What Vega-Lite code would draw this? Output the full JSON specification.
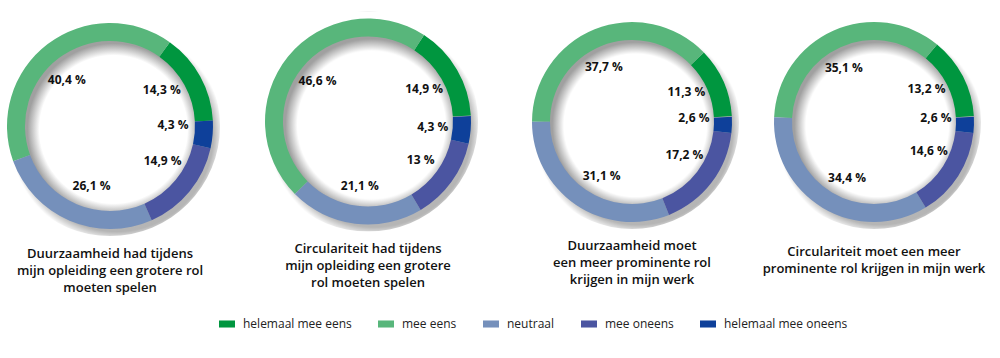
{
  "$schema": "https://vega.github.io/schema/vega-lite/v6.json",
  "padding": 0,
  "background": "white",
  "spacing": 0,
  "bounds": "flush",
  "config": {
    "view": {"stroke": null},
    "font": "Open Sans",
    "title": {"font": "Open Sans", "fontSize": 13, "fontWeight": 600, "color": "#111111", "lineHeight": 17, "anchor": "middle", "frame": "group", "baseline": "top"},
    "legend": {"labelFont": "Open Sans", "labelFontSize": 12, "labelColor": "#222222", "symbolType": "M-1,-0.44H1V0.44H-1Z", "symbolSize": 256, "symbolStrokeWidth": 0, "symbolOpacity": 1, "labelOffset": 8, "columnPadding": 26}
  },
  "datasets": {
    "survey": [
      {"q": 1, "cat": "helemaal mee eens", "value": 14.3, "label": "14,3 %", "ord": 4},
      {"q": 1, "cat": "mee eens", "value": 40.4, "label": "40,4 %", "ord": 3},
      {"q": 1, "cat": "neutraal", "value": 26.1, "label": "26,1 %", "ord": 2},
      {"q": 1, "cat": "mee oneens", "value": 14.9, "label": "14,9 %", "ord": 1},
      {"q": 1, "cat": "helemaal mee oneens", "value": 4.3, "label": "4,3 %", "ord": 0},
      {"q": 2, "cat": "helemaal mee eens", "value": 14.9, "label": "14,9 %", "ord": 4},
      {"q": 2, "cat": "mee eens", "value": 46.6, "label": "46,6 %", "ord": 3},
      {"q": 2, "cat": "neutraal", "value": 21.1, "label": "21,1 %", "ord": 2},
      {"q": 2, "cat": "mee oneens", "value": 13, "label": "13 %", "ord": 1},
      {"q": 2, "cat": "helemaal mee oneens", "value": 4.3, "label": "4,3 %", "ord": 0},
      {"q": 3, "cat": "helemaal mee eens", "value": 11.3, "label": "11,3 %", "ord": 4},
      {"q": 3, "cat": "mee eens", "value": 37.7, "label": "37,7 %", "ord": 3},
      {"q": 3, "cat": "neutraal", "value": 31.1, "label": "31,1 %", "ord": 2},
      {"q": 3, "cat": "mee oneens", "value": 17.2, "label": "17,2 %", "ord": 1},
      {"q": 3, "cat": "helemaal mee oneens", "value": 2.6, "label": "2,6 %", "ord": 0},
      {"q": 4, "cat": "helemaal mee eens", "value": 13.2, "label": "13,2 %", "ord": 4},
      {"q": 4, "cat": "mee eens", "value": 35.1, "label": "35,1 %", "ord": 3},
      {"q": 4, "cat": "neutraal", "value": 34.4, "label": "34,4 %", "ord": 2},
      {"q": 4, "cat": "mee oneens", "value": 14.6, "label": "14,6 %", "ord": 1},
      {"q": 4, "cat": "helemaal mee oneens", "value": 2.6, "label": "2,6 %", "ord": 0}
    ],
    "disc": [{"k": 1}]
  },
  "hconcat": [
    {
      "width": 220, "height": 252,
      "title": {"text": ["Duurzaamheid had tijdens", "mijn opleiding een grotere rol", "moeten spelen"], "orient": "bottom", "offset": -4},
      "resolve": {"scale": {"theta": "independent"}},
      "layer": [
        {"data": {"name": "disc"}, "mark": {"type": "arc", "outerRadius": 110, "theta": 0, "theta2": 6.2832, "color": {"gradient": "radial", "x1": 0.53, "y1": 0.54, "r1": 0, "x2": 0.53, "y2": 0.54, "r2": 0.5, "stops": [{"offset": 0, "color": "#b0b0b0"}, {"offset": 0.88, "color": "#b5b5b5"}, {"offset": 0.97, "color": "#ffffff"}]}}, "encoding": {}},
        {"data": {"name": "disc"}, "mark": {"type": "arc", "outerRadius": 86, "theta": 0, "theta2": 6.2832, "color": {"gradient": "radial", "x1": 0.52, "y1": 0.52, "r1": 0, "x2": 0.52, "y2": 0.52, "r2": 0.5, "stops": [{"offset": 0, "color": "#ffffff"}, {"offset": 0.86, "color": "#ffffff"}, {"offset": 1, "color": "#a0a0a0"}]}}, "encoding": {}},
        {"data": {"name": "survey"}, "transform": [{"filter": "datum.q == 1"}],
          "mark": {"type": "arc", "outerRadius": 103, "innerRadius": 85},
          "encoding": {
            "theta": {"field": "value", "type": "quantitative", "stack": true, "scale": {"domain": [0, 100], "range": [1.518, 7.801]}},
            "color": {"field": "cat", "type": "nominal", "scale": {"domain": ["helemaal mee eens", "mee eens", "neutraal", "mee oneens", "helemaal mee oneens"], "range": ["#00963f", "#58b67b", "#7590bb", "#4b55a1", "#0e409a"]}, "legend": {"orient": "none", "legendX": 219, "legendY": 316, "direction": "horizontal", "columns": 5, "title": null}},
            "order": {"field": "ord", "type": "quantitative"}
          }},
        {"data": {"name": "survey"}, "transform": [{"filter": "datum.q == 1"}],
          "mark": {"type": "text", "radius": 63, "fontSize": 12, "fontWeight": "bold", "color": "#111111"},
          "encoding": {
            "theta": {"field": "value", "type": "quantitative", "stack": true, "scale": {"domain": [0, 100], "range": [1.413, 7.696]}},
            "text": {"field": "label"},
            "order": {"field": "ord", "type": "quantitative"}
          }}
      ]
    },
    {
      "width": 296, "height": 243,
      "title": {"text": ["Circulariteit had tijdens", "mijn opleiding een grotere", "rol moeten spelen"], "orient": "bottom", "offset": 0},
      "resolve": {"scale": {"theta": "independent"}},
      "layer": [
        {"data": {"name": "disc"}, "mark": {"type": "arc", "outerRadius": 110, "theta": 0, "theta2": 6.2832, "color": {"gradient": "radial", "x1": 0.53, "y1": 0.54, "r1": 0, "x2": 0.53, "y2": 0.54, "r2": 0.5, "stops": [{"offset": 0, "color": "#b0b0b0"}, {"offset": 0.88, "color": "#b5b5b5"}, {"offset": 0.97, "color": "#ffffff"}]}}, "encoding": {}},
        {"data": {"name": "disc"}, "mark": {"type": "arc", "outerRadius": 86, "theta": 0, "theta2": 6.2832, "color": {"gradient": "radial", "x1": 0.52, "y1": 0.52, "r1": 0, "x2": 0.52, "y2": 0.52, "r2": 0.5, "stops": [{"offset": 0, "color": "#ffffff"}, {"offset": 0.86, "color": "#ffffff"}, {"offset": 1, "color": "#a0a0a0"}]}}, "encoding": {}},
        {"data": {"name": "survey"}, "transform": [{"filter": "datum.q == 2"}],
          "mark": {"type": "arc", "outerRadius": 103, "innerRadius": 85},
          "encoding": {
            "theta": {"field": "value", "type": "quantitative", "stack": true, "scale": {"domain": [0, 100], "range": [1.518, 7.801]}},
            "color": {"field": "cat", "type": "nominal"},
            "order": {"field": "ord", "type": "quantitative"}
          }},
        {"data": {"name": "survey"}, "transform": [{"filter": "datum.q == 2"}],
          "mark": {"type": "text", "radius": 65, "fontSize": 12, "fontWeight": "bold", "color": "#111111"},
          "encoding": {
            "theta": {"field": "value", "type": "quantitative", "stack": true, "scale": {"domain": [0, 100], "range": [1.518, 7.801]}},
            "text": {"field": "label"},
            "order": {"field": "ord", "type": "quantitative"}
          }}
      ]
    },
    {
      "width": 232, "height": 244,
      "title": {"text": ["Duurzaamheid moet", "een meer prominente rol", "krijgen in mijn werk"], "orient": "bottom", "offset": -4},
      "resolve": {"scale": {"theta": "independent"}},
      "layer": [
        {"data": {"name": "disc"}, "mark": {"type": "arc", "outerRadius": 107, "theta": 0, "theta2": 6.2832, "color": {"gradient": "radial", "x1": 0.53, "y1": 0.54, "r1": 0, "x2": 0.53, "y2": 0.54, "r2": 0.5, "stops": [{"offset": 0, "color": "#b0b0b0"}, {"offset": 0.88, "color": "#b5b5b5"}, {"offset": 0.97, "color": "#ffffff"}]}}, "encoding": {}},
        {"data": {"name": "disc"}, "mark": {"type": "arc", "outerRadius": 83, "theta": 0, "theta2": 6.2832, "color": {"gradient": "radial", "x1": 0.52, "y1": 0.52, "r1": 0, "x2": 0.52, "y2": 0.52, "r2": 0.5, "stops": [{"offset": 0, "color": "#ffffff"}, {"offset": 0.86, "color": "#ffffff"}, {"offset": 1, "color": "#a0a0a0"}]}}, "encoding": {}},
        {"data": {"name": "survey"}, "transform": [{"filter": "datum.q == 3"}],
          "mark": {"type": "arc", "outerRadius": 100, "innerRadius": 82},
          "encoding": {
            "theta": {"field": "value", "type": "quantitative", "stack": true, "scale": {"domain": [0, 100], "range": [1.518, 7.801]}},
            "color": {"field": "cat", "type": "nominal"},
            "order": {"field": "ord", "type": "quantitative"}
          }},
        {"data": {"name": "survey"}, "transform": [{"filter": "datum.q == 3"}],
          "mark": {"type": "text", "radius": 62, "fontSize": 12, "fontWeight": "bold", "color": "#111111"},
          "encoding": {
            "theta": {"field": "value", "type": "quantitative", "stack": true, "scale": {"domain": [0, 100], "range": [1.431, 7.714]}},
            "text": {"field": "label"},
            "order": {"field": "ord", "type": "quantitative"}
          }}
      ]
    },
    {
      "width": 252, "height": 244,
      "title": {"text": ["Circulariteit moet een meer", "prominente rol krijgen in mijn werk"], "orient": "bottom", "offset": 2},
      "resolve": {"scale": {"theta": "independent"}},
      "layer": [
        {"data": {"name": "disc"}, "mark": {"type": "arc", "outerRadius": 107, "theta": 0, "theta2": 6.2832, "color": {"gradient": "radial", "x1": 0.53, "y1": 0.54, "r1": 0, "x2": 0.53, "y2": 0.54, "r2": 0.5, "stops": [{"offset": 0, "color": "#b0b0b0"}, {"offset": 0.88, "color": "#b5b5b5"}, {"offset": 0.97, "color": "#ffffff"}]}}, "encoding": {}},
        {"data": {"name": "disc"}, "mark": {"type": "arc", "outerRadius": 83, "theta": 0, "theta2": 6.2832, "color": {"gradient": "radial", "x1": 0.52, "y1": 0.52, "r1": 0, "x2": 0.52, "y2": 0.52, "r2": 0.5, "stops": [{"offset": 0, "color": "#ffffff"}, {"offset": 0.86, "color": "#ffffff"}, {"offset": 1, "color": "#a0a0a0"}]}}, "encoding": {}},
        {"data": {"name": "survey"}, "transform": [{"filter": "datum.q == 4"}],
          "mark": {"type": "arc", "outerRadius": 100, "innerRadius": 82},
          "encoding": {
            "theta": {"field": "value", "type": "quantitative", "stack": true, "scale": {"domain": [0, 100], "range": [1.518, 7.801]}},
            "color": {"field": "cat", "type": "nominal"},
            "order": {"field": "ord", "type": "quantitative"}
          }},
        {"data": {"name": "survey"}, "transform": [{"filter": "datum.q == 4"}],
          "mark": {"type": "text", "radius": 62, "fontSize": 12, "fontWeight": "bold", "color": "#111111"},
          "encoding": {
            "theta": {"field": "value", "type": "quantitative", "stack": true, "scale": {"domain": [0, 100], "range": [1.431, 7.714]}},
            "text": {"field": "label"},
            "order": {"field": "ord", "type": "quantitative"}
          }}
      ]
    }
  ]
}
